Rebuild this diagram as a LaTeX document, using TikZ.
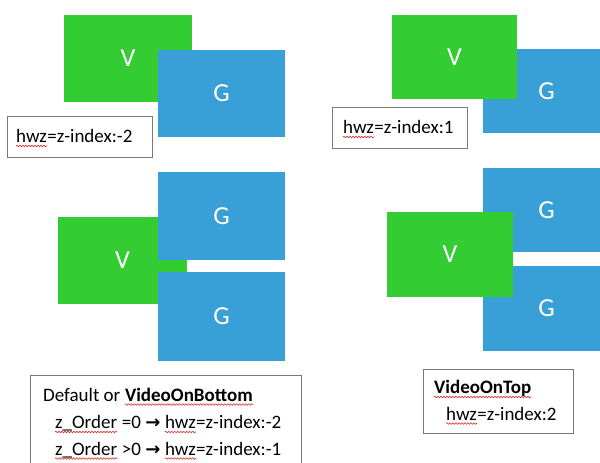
\documentclass[tikz,border=0pt]{standalone}
\usepackage{fontspec}
\setmainfont{Carlito}
\newfontfamily\arrowfont{DejaVu Sans}
\usetikzlibrary{decorations.pathmorphing}
\definecolor{vgreen}{RGB}{51,204,51}
\definecolor{gblue}{RGB}{56,160,214}
\definecolor{boxgray}{RGB}{120,120,120}
\definecolor{squigred}{RGB}{225,40,40}
\newcommand\arr{{\arrowfont\bfseries\fontsize{18}{20}\selectfont →}}
\begin{document}
\begin{tikzpicture}[x=1pt,y=-1pt,
  panel/.style={rectangle, inner sep=0pt, text=white, font=\fontsize{26}{30}\selectfont, minimum width=127pt},
  vbox/.style={panel, fill=vgreen},
  gbox/.style={panel, fill=gblue},
  frame/.style={draw=boxgray, line width=1pt, fill=white, rectangle, inner sep=0pt, anchor=north west},
  txt/.style={inner sep=0pt, anchor=base west, font=\fontsize{19}{24}\selectfont},
  sp/.style={xshift=4.3pt},
  squig/.style={draw=squigred, line width=0.6pt, decorate, decoration={snake, amplitude=0.8pt, segment length=3pt}}]
\clip (0,0) rectangle (600,463);
\fill[white] (0,0) rectangle (600,463);
% top-left: video below graphics
\node[vbox, minimum width=128pt, minimum height=87pt] (v1) at (128,58.5) {V};
\node[gbox, minimum height=87pt] (g1) at (221.5,93.5) {G};
\node[frame, minimum width=145pt, minimum height=41pt] (f1) at (7,116) {};
\node[txt] (t1w) at (16,142.5) {hwz};
\node[txt] (t1) at (t1w.base east) {=z-index:-2};
% top-right: video above graphics
\node[gbox, minimum height=84pt] (g2) at (546.5,91) {G};
\node[vbox, minimum width=125pt, minimum height=84pt] (v2) at (454.5,57) {V};
\node[frame, minimum width=135pt, minimum height=41pt] (f2) at (332,107) {};
\node[txt] (t2w) at (343,133.5) {hwz};
\node[txt] (t2) at (t2w.base east) {=z-index:1};
% bottom-left
\node[vbox, minimum width=129pt, minimum height=87pt] (v3) at (122.5,260.5) {V};
\node[gbox, minimum height=88pt] (g3) at (221.5,216) {G};
\node[gbox, minimum height=89pt] (g4) at (221.5,316.5) {G};
% bottom-right
\node[gbox, minimum height=84pt] (g5) at (546.5,210) {G};
\node[gbox, minimum height=85pt] (g6) at (546.5,308.5) {G};
\node[vbox, minimum width=126pt, minimum height=85pt] (v4) at (450,254.5) {V};
% bottom-left legend
\node[frame, minimum width=271pt, minimum height=100pt] (f3) at (30,375) {};
\node[txt] (t3a) at (43,401) {Default or};
\node[txt] (t3aw) at ([sp]t3a.base east) {\textbf{VideoOnBottom}};
\node[txt] (t3bw) at (55,428.5) {z\_Order};
\node[txt] (t3b) at ([sp]t3bw.base east) {=0 \arr};
\node[txt] (t3bh) at ([sp]t3b.base east) {hwz};
\node[txt] (t3bt) at (t3bh.base east) {=z-index:-2};
\node[txt] (t3cw) at (55,455) {z\_Order};
\node[txt] (t3c) at ([sp]t3cw.base east) {>0 \arr};
\node[txt] (t3ch) at ([sp]t3c.base east) {hwz};
\node[txt] (t3ct) at (t3ch.base east) {=z-index:-1};
% bottom-right legend
\node[frame, minimum width=150pt, minimum height=64pt] (f4) at (423,369) {};
\node[txt] (t4a) at (434,393.5) {\textbf{VideoOnTop}};
\node[txt] (t4bh) at (446,420) {hwz};
\node[txt] (t4b) at (t4bh.base east) {=z-index:2};
% spell-check squiggles
\foreach \w in {t1w, t2w, t3aw, t3bw, t3bh, t3cw, t3ch, t4a, t4bh}
  \draw[squig] ([yshift=-3.5pt]\w.base west) -- ([yshift=-3.5pt]\w.base east);
\end{tikzpicture}
\end{document}
